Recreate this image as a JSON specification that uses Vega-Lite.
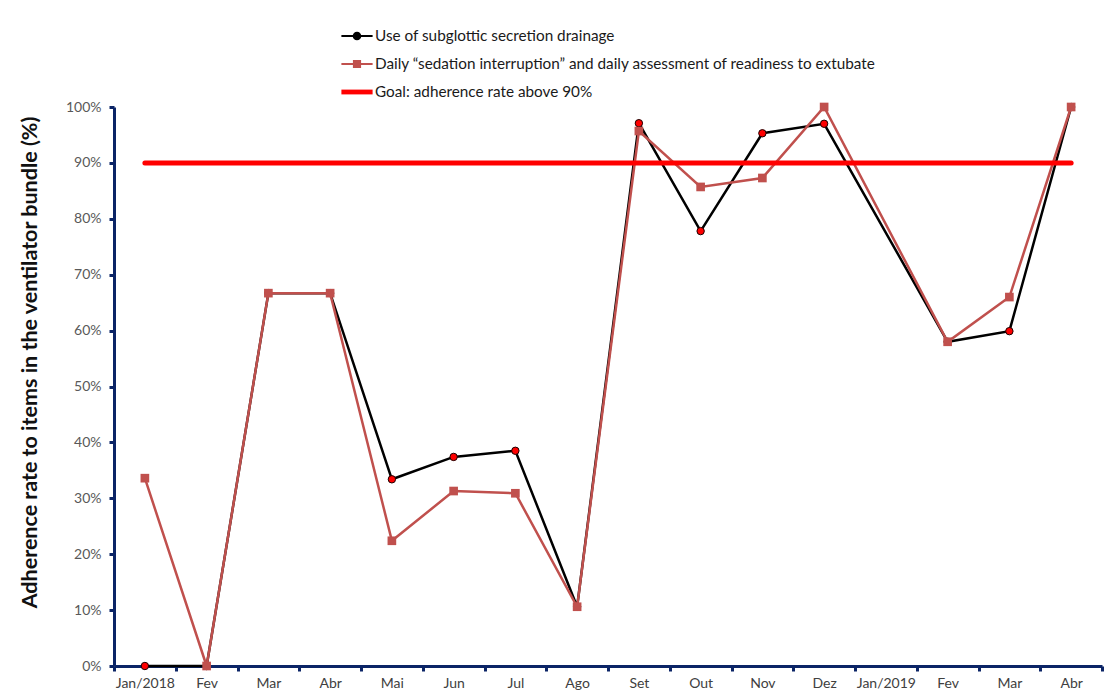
{
  "$schema": "https://vega.github.io/schema/vega-lite/v6.json",
  "width": 988,
  "height": 559,
  "autosize": {"type": "none"},
  "padding": {"left": 114, "top": 107, "right": 3, "bottom": 28},
  "background": "white",
  "config": {"view": {"stroke": null}, "font": "Lato"},
  "datasets": {
    "series": [
      {"idx": 1, "series": "Use of subglottic secretion drainage", "v": 0},
      {"idx": 2, "series": "Use of subglottic secretion drainage", "v": 0},
      {"idx": 3, "series": "Use of subglottic secretion drainage", "v": 66.7},
      {"idx": 4, "series": "Use of subglottic secretion drainage", "v": 66.7},
      {"idx": 5, "series": "Use of subglottic secretion drainage", "v": 33.4},
      {"idx": 6, "series": "Use of subglottic secretion drainage", "v": 37.4},
      {"idx": 7, "series": "Use of subglottic secretion drainage", "v": 38.5},
      {"idx": 8, "series": "Use of subglottic secretion drainage", "v": 10.6},
      {"idx": 9, "series": "Use of subglottic secretion drainage", "v": 97.1},
      {"idx": 10, "series": "Use of subglottic secretion drainage", "v": 77.8},
      {"idx": 11, "series": "Use of subglottic secretion drainage", "v": 95.3},
      {"idx": 12, "series": "Use of subglottic secretion drainage", "v": 97.0},
      {"idx": 14, "series": "Use of subglottic secretion drainage", "v": 58.0},
      {"idx": 15, "series": "Use of subglottic secretion drainage", "v": 59.9},
      {"idx": 16, "series": "Use of subglottic secretion drainage", "v": 100},
      {"idx": 1, "series": "Daily “sedation interruption” and daily assessment of readiness to extubate", "v": 33.6},
      {"idx": 2, "series": "Daily “sedation interruption” and daily assessment of readiness to extubate", "v": 0},
      {"idx": 3, "series": "Daily “sedation interruption” and daily assessment of readiness to extubate", "v": 66.7},
      {"idx": 4, "series": "Daily “sedation interruption” and daily assessment of readiness to extubate", "v": 66.7},
      {"idx": 5, "series": "Daily “sedation interruption” and daily assessment of readiness to extubate", "v": 22.4},
      {"idx": 6, "series": "Daily “sedation interruption” and daily assessment of readiness to extubate", "v": 31.3},
      {"idx": 7, "series": "Daily “sedation interruption” and daily assessment of readiness to extubate", "v": 30.9},
      {"idx": 8, "series": "Daily “sedation interruption” and daily assessment of readiness to extubate", "v": 10.6},
      {"idx": 9, "series": "Daily “sedation interruption” and daily assessment of readiness to extubate", "v": 95.7},
      {"idx": 10, "series": "Daily “sedation interruption” and daily assessment of readiness to extubate", "v": 85.7},
      {"idx": 11, "series": "Daily “sedation interruption” and daily assessment of readiness to extubate", "v": 87.3},
      {"idx": 12, "series": "Daily “sedation interruption” and daily assessment of readiness to extubate", "v": 100},
      {"idx": 14, "series": "Daily “sedation interruption” and daily assessment of readiness to extubate", "v": 58.0},
      {"idx": 15, "series": "Daily “sedation interruption” and daily assessment of readiness to extubate", "v": 66.0},
      {"idx": 16, "series": "Daily “sedation interruption” and daily assessment of readiness to extubate", "v": 100}
    ],
    "goal": [
      {"idx": 1, "series": "Goal: adherence rate above 90%", "v": 90},
      {"idx": 16, "series": "Goal: adherence rate above 90%", "v": 90}
    ]
  },
  "encoding": {
    "x": {
      "field": "idx",
      "type": "ordinal",
      "scale": {"type": "band", "domain": [1,2,3,4,5,6,7,8,9,10,11,12,13,14,15,16], "paddingInner": 0, "paddingOuter": 0},
      "axis": {
        "title": null,
        "labelAngle": 0,
        "labelExpr": "['Jan/2018','Fev','Mar','Abr','Mai','Jun','Jul','Ago','Set','Out','Nov','Dez','Jan/2019','Fev','Mar','Abr'][datum.value-1]",
        "tickBand": "extent",
        "domainColor": "#0b2466",
        "domainWidth": 3,
        "tickColor": "#0b2466",
        "tickWidth": 3,
        "tickSize": 5,
        "labelColor": "#404040",
        "labelFontSize": 14,
        "labelPadding": 5,
        "grid": false
      }
    },
    "y": {
      "field": "v",
      "type": "quantitative",
      "scale": {"domain": [0, 100], "nice": false},
      "axis": {
        "title": "Adherence rate to items in the ventilator bundle (%)",
        "titleFontSize": 21.5,
        "titleFontWeight": "bold",
        "titleColor": "#111111",
        "titlePadding": 24,
        "titleY": 255,
        "values": [0,10,20,30,40,50,60,70,80,90,100],
        "labelExpr": "datum.value + '%'",
        "domainColor": "#0b2466",
        "domainWidth": 3,
        "tickColor": "#0b2466",
        "tickWidth": 3,
        "tickSize": 5,
        "labelColor": "#595959",
        "labelFontSize": 14,
        "labelPadding": 8,
        "grid": false
      }
    }
  },
  "layer": [
    {
      "data": {"name": "series"},
      "transform": [{"filter": "datum.series === 'Use of subglottic secretion drainage'"}],
      "mark": {"type": "line", "strokeWidth": 2.5},
      "encoding": {
        "color": {
          "field": "series",
          "type": "nominal",
          "scale": {
            "domain": ["Use of subglottic secretion drainage", "Daily “sedation interruption” and daily assessment of readiness to extubate", "Goal: adherence rate above 90%"],
            "range": ["#000000", "#c0504d", "#ff0000"]
          },
          "legend": {
            "orient": "none",
            "legendX": 231,
            "legendY": -83,
            "direction": "vertical",
            "title": null,
            "symbolSize": 576,
            "symbolType": "square",
            "rowPadding": 7,
            "labelOffset": 6,
            "labelFontSize": 15.3,
            "labelColor": "#1a1a1a",
            "labelLimit": 700,
            "encode": {
              "symbols": {
                "update": {
                  "shape": {"signal": "datum.value === 'Goal: adherence rate above 90%' ? 'M-1.3,-0.2H1.3V0.2H-1.3Z' : (datum.value === 'Use of subglottic secretion drainage' ? 'M-1.3,-0.08H1.3V0.08H-1.3Z M0.36,0 A0.36,0.36 0 1,1 -0.36,0 A0.36,0.36 0 1,1 0.36,0Z' : 'M-1.3,-0.08H1.3V0.08H-1.3Z M-0.34,-0.34H0.34V0.34H-0.34Z')"},
                  "fill": {"signal": "scale('color', datum.value)"},
                  "fillOpacity": {"value": 1},
                  "strokeWidth": {"value": 0}
                }
              }
            }
          }
        }
      }
    },
    {
      "data": {"name": "series"},
      "transform": [{"filter": "datum.series === 'Use of subglottic secretion drainage'"}],
      "mark": {"type": "point", "shape": "circle", "filled": true, "fill": "#ff0000", "stroke": "#1a0000", "strokeWidth": 1, "size": 55, "opacity": 1}
    },
    {
      "data": {"name": "series"},
      "transform": [{"filter": "datum.series !== 'Use of subglottic secretion drainage'"}],
      "mark": {"type": "line", "strokeWidth": 2.5},
      "encoding": {"color": {"field": "series", "type": "nominal"}}
    },
    {
      "data": {"name": "series"},
      "transform": [{"filter": "datum.series !== 'Use of subglottic secretion drainage'"}],
      "mark": {"type": "point", "shape": "square", "filled": true, "color": "#c0504d", "size": 75, "opacity": 1}
    },
    {
      "data": {"name": "goal"},
      "mark": {"type": "line", "strokeWidth": 5, "strokeCap": "round"},
      "encoding": {"color": {"field": "series", "type": "nominal"}}
    }
  ]
}
